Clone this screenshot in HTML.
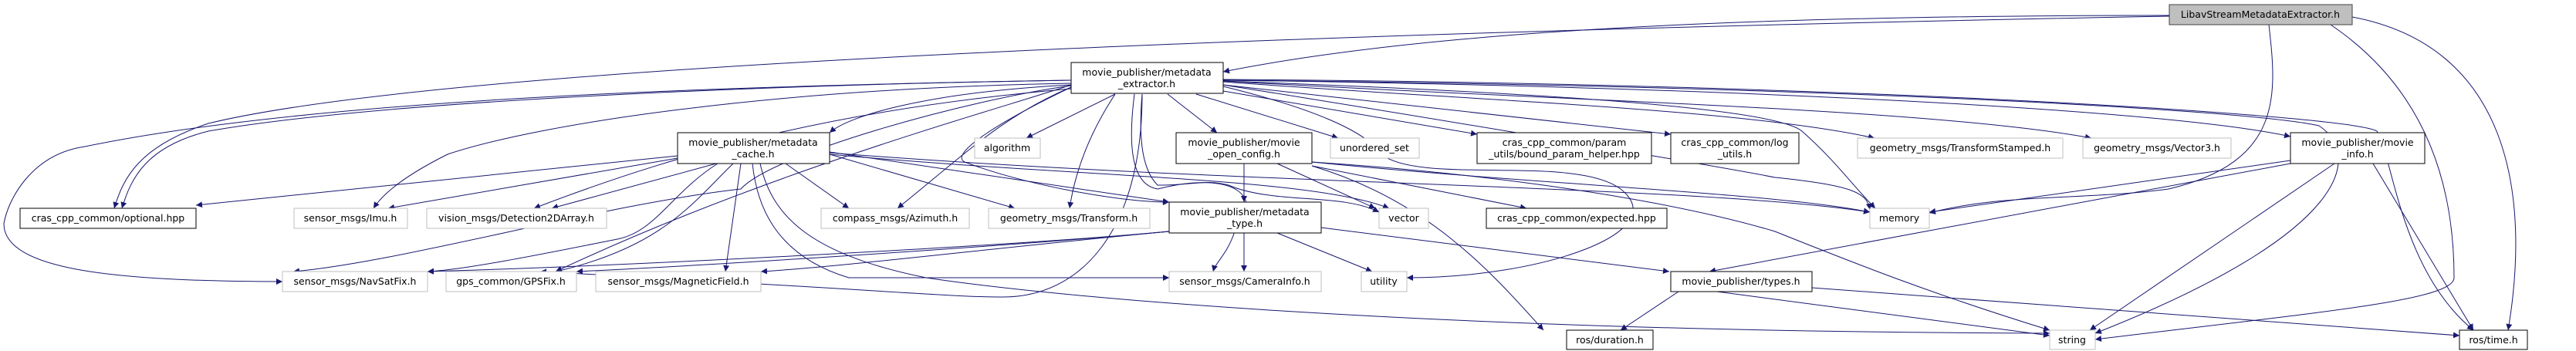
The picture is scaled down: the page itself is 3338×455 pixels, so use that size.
<!DOCTYPE html>
<html><head><meta charset="utf-8"><style>
html,body{margin:0;padding:0;background:#fff;width:3338px;height:455px;overflow:hidden}
svg text{font-family:"DejaVu Sans","Liberation Sans",sans-serif;font-size:12.5px;fill:#000}
</style></head><body>
<svg width="3338" height="455" viewBox="0 0 3338 455" xmlns="http://www.w3.org/2000/svg">
<defs><marker id="a" viewBox="0 0 10 10" refX="10" refY="5" markerWidth="8" markerHeight="8" markerUnits="userSpaceOnUse" orient="auto"><path d="M0,0L10,5L0,10z" fill="#191970"/></marker></defs>
<g fill="none" stroke="#191970" stroke-width="1" marker-end="url(#a)">
<!-- Libav -->
<path d="M2811,20 C2400,20 1900,30 1585,93"/>
<path d="M2811,21 C1800,40 600,80 270,160 C180,190 160,230 148,270"/>
<path d="M2940,32 C2950,120 2960,210 2810,245 C2700,260 2600,250 2500,276"/>
<path d="M3020,32 C3150,120 3180,250 3180,360 C3180,390 3000,405 2715,440"/>
<path d="M3048,22 C3250,60 3280,250 3250,428"/>
<!-- extractor -->
<path d="M1388,110 C1200,120 1100,150 1075,172"/>
<path d="M1388,104 C1000,110 500,130 270,170 C190,190 170,230 158,270"/>
<path d="M1388,104 C900,112 400,130 110,190 C40,200 10,260 5,290 C5,350 150,365 366,365"/>
<path d="M1388,108 C1000,115 700,160 580,200 C540,220 500,245 484,270"/>
<path d="M1388,115 C1100,140 900,190 692,270"/>
<path d="M1388,111 C1250,130 1000,200 960,245 C780,265 520,340 380,352"/>
<path d="M1388,110 C1300,140 1000,220 720,352"/>
<path d="M1388,113 C1300,150 1250,200 1163,270"/>
<path d="M1445,122 C1420,160 1395,210 1386,270"/>
<path d="M1388,113 C1290,160 1230,200 1250,210 C1330,240 1450,262 1515,262"/>
<path d="M1445,122 L1330,179"/>
<path d="M1513,122 L1577,172"/>
<path d="M1550,122 L1734,179"/>
<path d="M1585,118 L1914,174"/>
<path d="M1585,110 L2165,174"/>
<path d="M1585,106 C1900,130 2250,140 2429,179"/>
<path d="M1585,105 C2000,130 2500,140 2710,179"/>
<path d="M1585,104 C2200,112 2800,140 2968,177"/>
<path d="M1585,105 C2000,120 2300,140 2335,170 C2380,210 2400,240 2430,270"/>
<path d="M1585,104 C2300,110 2900,140 3005,163 C3060,200 3050,300 2715,432"/>
<path d="M1585,103 C2400,108 3050,150 3080,170 C3100,200 3110,350 3205,428"/>
<path d="M1480,122 C1475,180 1480,220 1500,240 C1550,240 1560,232 1592,240 C1650,265 1740,250 1787,275"/>
<path d="M1480,122 C1480,300 1400,385 1300,385 C1230,385 1180,378 700,352"/>
<path d="M1470,122 C1460,200 1470,240 1500,245 C1600,220 1640,255 1600,300 C1590,330 1575,340 1572,352"/>
<path d="M1585,112 C1700,140 1770,170 1790,200 C1840,240 2040,200 2100,245 C2170,300 2000,360 1823,360"/>
<path d="M1585,110 C1900,160 2250,220 2300,230 C2400,240 2420,250 2423,272"/>
<!-- cache -->
<path d="M878,202 L254,266"/>
<path d="M878,205 L503,270"/>
<path d="M928,212 L715,270"/>
<path d="M1018,212 L1100,270"/>
<path d="M1075,200 L1315,270"/>
<path d="M1075,197 L1515,262"/>
<path d="M1075,200 C1400,230 1700,230 1800,270"/>
<path d="M1075,198 C1600,240 2200,240 2423,275"/>
<path d="M930,212 C870,250 850,300 800,310 C700,330 600,350 554,352"/>
<path d="M950,212 C900,260 860,320 720,352"/>
<path d="M960,212 L940,352"/>
<path d="M975,212 C980,260 1000,330 1100,360 L1515,360"/>
<path d="M985,212 C1000,280 1050,330 1200,360 C1400,390 1900,430 2656,432"/>
<!-- open_config -->
<path d="M1612,212 L1612,262"/>
<path d="M1655,212 L1782,270"/>
<path d="M1700,215 L1978,270"/>
<path d="M1700,215 C1850,260 1930,350 2000,428"/>
<path d="M1700,210 C2000,240 2300,250 2423,275"/>
<path d="M1700,210 C2000,230 2200,270 2300,300 C2400,340 2500,380 2656,428"/>
<!-- type -->
<path d="M1515,300 C1300,320 800,345 554,352"/>
<path d="M1515,300 C1300,320 900,345 747,352"/>
<path d="M1515,300 C1300,320 1100,345 986,352"/>
<path d="M1612,302 L1612,352"/>
<path d="M1655,302 L1778,352"/>
<path d="M1712,295 L2163,352"/>
<!-- types -->
<path d="M2175,378 L2100,428"/>
<path d="M2225,378 L2656,435"/>
<path d="M2348,373 L3187,435"/>
<!-- movie_info -->
<path d="M2968,208 L2500,275"/>
<path d="M2968,212 L2215,352"/>
<path d="M3025,212 L2708,428"/>
<path d="M3075,212 L3205,428"/>
</g>
<g stroke-width="1">
<rect x="2811" y="6" width="237" height="26" fill="#bfbfbf" stroke="#404040"/>
<rect x="1388" y="81" width="197" height="40" fill="#fff" stroke="#000"/>
<rect x="878" y="172" width="197" height="40" fill="#fff" stroke="#000"/>
<rect x="1524" y="172" width="176" height="40" fill="#fff" stroke="#000"/>
<rect x="1914" y="172" width="226" height="40" fill="#fff" stroke="#000"/>
<rect x="2165" y="172" width="166" height="40" fill="#fff" stroke="#000"/>
<rect x="2968" y="172" width="174" height="40" fill="#fff" stroke="#000"/>
<rect x="1263" y="179" width="85" height="26" fill="#fff" stroke="#bfbfbf"/>
<rect x="1724" y="179" width="115" height="26" fill="#fff" stroke="#bfbfbf"/>
<rect x="2407" y="179" width="266" height="26" fill="#fff" stroke="#bfbfbf"/>
<rect x="2699" y="179" width="192" height="26" fill="#fff" stroke="#bfbfbf"/>
<rect x="26" y="270" width="228" height="26" fill="#fff" stroke="#000"/>
<rect x="381" y="270" width="147" height="26" fill="#fff" stroke="#bfbfbf"/>
<rect x="553" y="270" width="233" height="26" fill="#fff" stroke="#bfbfbf"/>
<rect x="1064" y="270" width="192" height="26" fill="#fff" stroke="#bfbfbf"/>
<rect x="1281" y="270" width="209" height="26" fill="#fff" stroke="#bfbfbf"/>
<rect x="1515" y="262" width="197" height="40" fill="#fff" stroke="#000"/>
<rect x="1787" y="270" width="64" height="26" fill="#fff" stroke="#bfbfbf"/>
<rect x="1926" y="270" width="234" height="26" fill="#fff" stroke="#000"/>
<rect x="2423" y="270" width="77" height="26" fill="#fff" stroke="#bfbfbf"/>
<rect x="366" y="352" width="188" height="26" fill="#fff" stroke="#bfbfbf"/>
<rect x="578" y="352" width="169" height="26" fill="#fff" stroke="#bfbfbf"/>
<rect x="772" y="352" width="214" height="26" fill="#fff" stroke="#bfbfbf"/>
<rect x="1515" y="352" width="197" height="26" fill="#fff" stroke="#bfbfbf"/>
<rect x="1764" y="352" width="59" height="26" fill="#fff" stroke="#bfbfbf"/>
<rect x="2165" y="352" width="183" height="26" fill="#fff" stroke="#000"/>
<rect x="2030" y="428" width="112" height="25" fill="#fff" stroke="#000"/>
<rect x="2656" y="428" width="59" height="25" fill="#fff" stroke="#bfbfbf"/>
<rect x="3187" y="428" width="88" height="25" fill="#fff" stroke="#000"/>
</g>
<g text-anchor="middle">
<text x="2929" y="23">LibavStreamMetadataExtractor.h</text>
<text x="1486" y="98">movie_publisher/metadata</text><text x="1486" y="113">_extractor.h</text>
<text x="976" y="189">movie_publisher/metadata</text><text x="976" y="204">_cache.h</text>
<text x="1612" y="189">movie_publisher/movie</text><text x="1612" y="204">_open_config.h</text>
<text x="2027" y="189">cras_cpp_common/param</text><text x="2027" y="204">_utils/bound_param_helper.hpp</text>
<text x="2248" y="189">cras_cpp_common/log</text><text x="2248" y="204">_utils.h</text>
<text x="3055" y="189">movie_publisher/movie</text><text x="3055" y="204">_info.h</text>
<text x="1305" y="196">algorithm</text>
<text x="1781" y="196">unordered_set</text>
<text x="2540" y="196">geometry_msgs/TransformStamped.h</text>
<text x="2795" y="196">geometry_msgs/Vector3.h</text>
<text x="140" y="287">cras_cpp_common/optional.hpp</text>
<text x="454" y="287">sensor_msgs/Imu.h</text>
<text x="669" y="287">vision_msgs/Detection2DArray.h</text>
<text x="1160" y="287">compass_msgs/Azimuth.h</text>
<text x="1385" y="287">geometry_msgs/Transform.h</text>
<text x="1613" y="279">movie_publisher/metadata</text><text x="1613" y="294">_type.h</text>
<text x="1819" y="287">vector</text>
<text x="2043" y="287">cras_cpp_common/expected.hpp</text>
<text x="2461" y="287">memory</text>
<text x="460" y="369">sensor_msgs/NavSatFix.h</text>
<text x="662" y="369">gps_common/GPSFix.h</text>
<text x="879" y="369">sensor_msgs/MagneticField.h</text>
<text x="1613" y="369">sensor_msgs/CameraInfo.h</text>
<text x="1793" y="369">utility</text>
<text x="2256" y="369">movie_publisher/types.h</text>
<text x="2086" y="445">ros/duration.h</text>
<text x="2685" y="445">string</text>
<text x="3231" y="445">ros/time.h</text>
</g>
</svg>
</body></html>
